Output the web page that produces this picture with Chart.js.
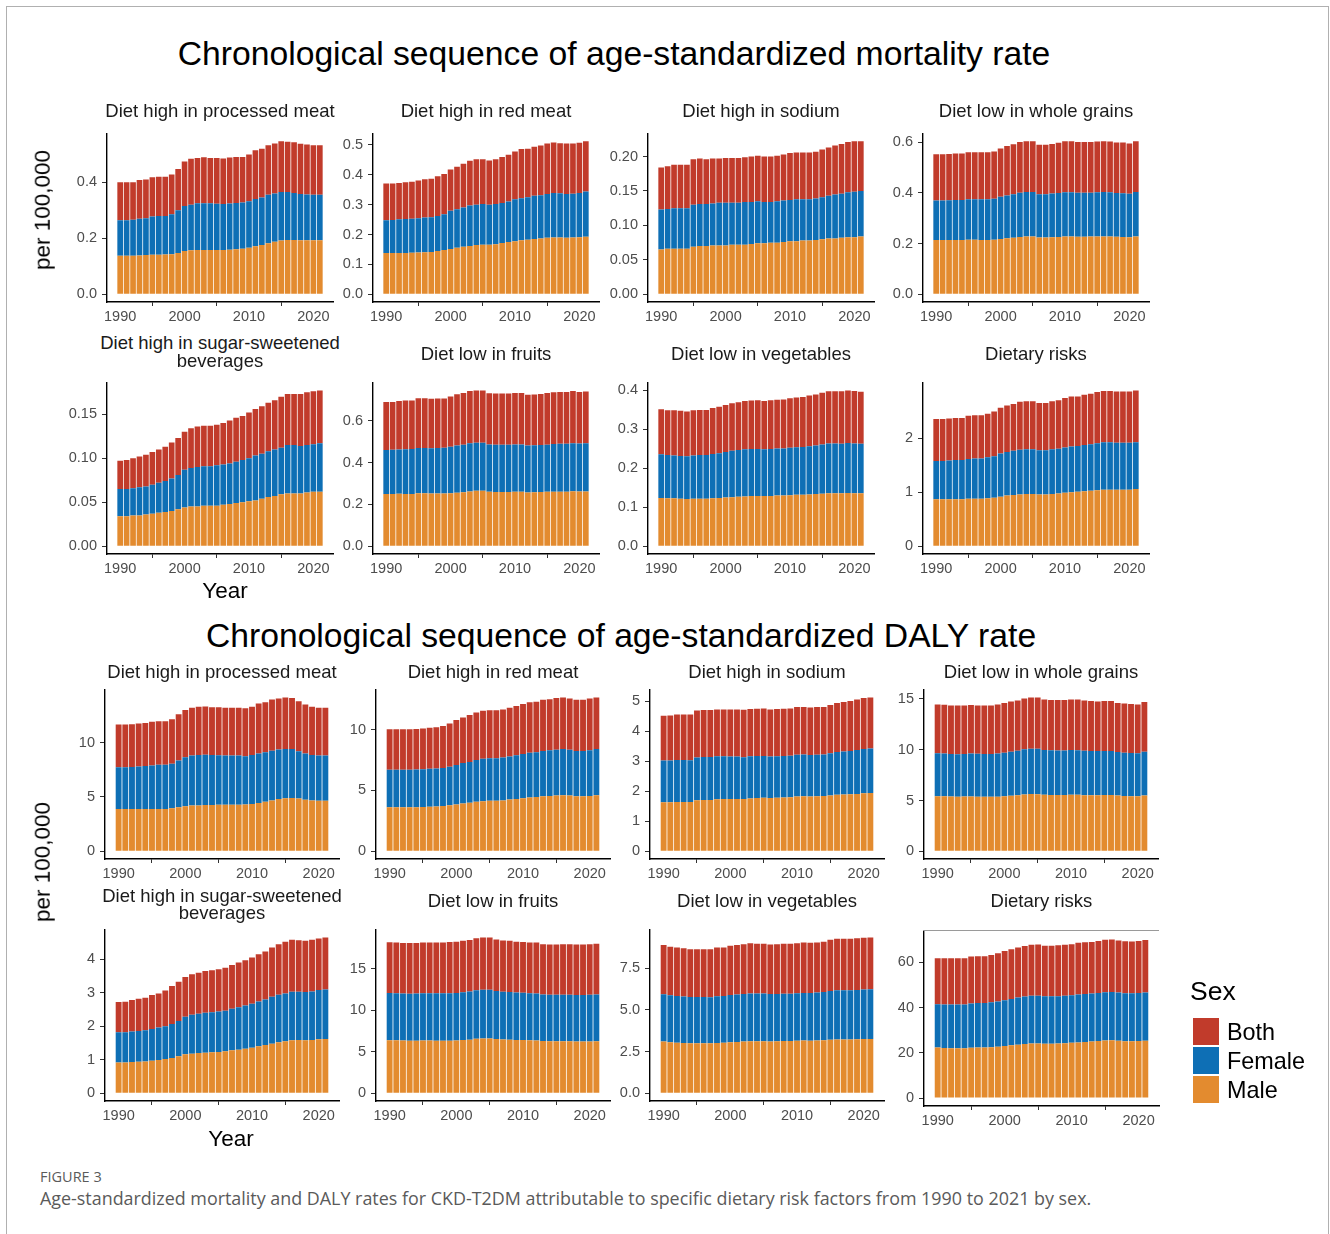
<!DOCTYPE html>
<html>
<head>
<meta charset="utf-8">
<title>Chronological sequence of age-standardized mortality and DALY rates</title>
<script src="https://cdn.jsdelivr.net/npm/chart.js@4.4.1/dist/chart.umd.min.js"></script>
<style>
  html, body { margin: 0; padding: 0; background: #ffffff; }
  #page { position: relative; width: 1330px; height: 1234px; overflow: hidden; background: #ffffff; }
  #page canvas { position: absolute; }
  .txt { position: absolute; white-space: nowrap; }
  .frame { position: absolute; left: 6px; top: 6px; width: 1321px; height: 1300px; border: 1px solid #b0b0b0; }
  .key { position: absolute; width: 26px; height: 27px; }
</style>
</head>
<body>
<div id="page"><div class="frame"></div></div>
<script>
// ---------- categories ----------
const years = [1990,1991,1992,1993,1994,1995,1996,1997,1998,1999,2000,2001,2002,2003,2004,2005,
               2006,2007,2008,2009,2010,2011,2012,2013,2014,2015,2016,2017,2018,2019,2020,2021];
const xTickLabels = ['1990','2000','2010','2020'];
const sexLabels = ['Both','Female','Male'];

// ---------- age-standardized mortality rate (per 100,000) ----------
const mortProcMeatMale   = [0.138,0.138,0.138,0.139,0.140,0.141,0.141,0.142,0.143,0.148,0.155,0.157,0.158,0.158,0.158,0.158,0.158,0.159,0.161,0.163,0.166,0.172,0.176,0.182,0.188,0.192,0.194,0.194,0.193,0.193,0.193,0.193];
const mortProcMeatFemale = [0.126,0.126,0.128,0.131,0.132,0.137,0.139,0.138,0.143,0.152,0.160,0.163,0.167,0.167,0.167,0.165,0.164,0.165,0.165,0.165,0.166,0.168,0.170,0.173,0.172,0.173,0.171,0.168,0.165,0.163,0.162,0.162];
const mortProcMeatBoth   = [0.136,0.136,0.134,0.138,0.138,0.140,0.140,0.140,0.142,0.147,0.159,0.164,0.162,0.164,0.162,0.164,0.163,0.164,0.164,0.162,0.167,0.174,0.174,0.177,0.178,0.181,0.180,0.181,0.179,0.179,0.177,0.177];
const mortProcMeatTicks  = ['0.0','0.2','0.4'];

const mortRedMeatMale   = [0.138,0.138,0.138,0.138,0.139,0.140,0.141,0.142,0.145,0.148,0.152,0.156,0.159,0.162,0.165,0.166,0.166,0.168,0.172,0.175,0.178,0.181,0.183,0.185,0.187,0.189,0.190,0.190,0.189,0.190,0.191,0.193];
const mortRedMeatFemale = [0.110,0.111,0.113,0.114,0.114,0.115,0.116,0.116,0.117,0.120,0.128,0.129,0.132,0.135,0.135,0.136,0.134,0.134,0.134,0.136,0.140,0.141,0.142,0.145,0.145,0.147,0.149,0.148,0.147,0.147,0.148,0.151];
const mortRedMeatBoth   = [0.123,0.122,0.122,0.123,0.124,0.126,0.128,0.129,0.133,0.135,0.138,0.142,0.146,0.150,0.152,0.150,0.148,0.150,0.154,0.156,0.160,0.164,0.162,0.164,0.166,0.169,0.169,0.168,0.169,0.168,0.168,0.168];
const mortRedMeatTicks  = ['0.0','0.1','0.2','0.3','0.4','0.5'];

const mortSodiumMale   = [0.065,0.066,0.066,0.066,0.066,0.069,0.070,0.070,0.071,0.071,0.071,0.072,0.072,0.072,0.073,0.074,0.074,0.075,0.075,0.076,0.077,0.077,0.078,0.078,0.079,0.080,0.081,0.081,0.082,0.083,0.083,0.084];
const mortSodiumFemale = [0.058,0.058,0.059,0.059,0.059,0.061,0.061,0.061,0.061,0.062,0.062,0.061,0.061,0.062,0.061,0.061,0.060,0.059,0.060,0.060,0.060,0.061,0.060,0.060,0.060,0.061,0.062,0.064,0.064,0.065,0.066,0.066];
const mortSodiumBoth   = [0.061,0.062,0.063,0.063,0.063,0.066,0.066,0.065,0.065,0.064,0.065,0.065,0.065,0.065,0.066,0.066,0.066,0.066,0.066,0.067,0.068,0.068,0.068,0.068,0.068,0.069,0.070,0.071,0.072,0.073,0.073,0.072];
const mortSodiumTicks  = ['0.00','0.05','0.10','0.15','0.20'];

const mortWholeGrainsMale   = [0.214,0.214,0.214,0.214,0.214,0.215,0.215,0.214,0.214,0.215,0.218,0.221,0.223,0.226,0.228,0.228,0.224,0.224,0.225,0.226,0.228,0.228,0.227,0.227,0.228,0.228,0.228,0.228,0.227,0.226,0.225,0.228];
const mortWholeGrainsFemale = [0.156,0.156,0.157,0.158,0.158,0.160,0.160,0.161,0.161,0.162,0.167,0.169,0.172,0.174,0.175,0.175,0.171,0.171,0.172,0.173,0.174,0.174,0.173,0.173,0.172,0.174,0.175,0.174,0.172,0.172,0.171,0.175];
const mortWholeGrainsBoth   = [0.182,0.182,0.182,0.183,0.183,0.185,0.185,0.185,0.185,0.186,0.190,0.195,0.197,0.200,0.200,0.200,0.195,0.195,0.196,0.198,0.201,0.201,0.200,0.200,0.200,0.200,0.200,0.200,0.199,0.200,0.199,0.200];
const mortWholeGrainsTicks  = ['0.0','0.2','0.4','0.6'];

const mortSugarBevMale   = [0.034,0.034,0.035,0.035,0.036,0.037,0.038,0.039,0.040,0.042,0.044,0.045,0.045,0.046,0.046,0.046,0.047,0.048,0.049,0.050,0.051,0.052,0.054,0.056,0.057,0.059,0.060,0.060,0.060,0.061,0.062,0.062];
const mortSugarBevFemale = [0.031,0.031,0.031,0.032,0.032,0.033,0.034,0.035,0.037,0.039,0.043,0.044,0.045,0.045,0.045,0.046,0.046,0.046,0.047,0.048,0.049,0.051,0.051,0.052,0.053,0.053,0.055,0.055,0.054,0.054,0.054,0.055];
const mortSugarBevBoth   = [0.032,0.033,0.034,0.035,0.036,0.037,0.038,0.039,0.041,0.042,0.043,0.045,0.046,0.046,0.046,0.046,0.047,0.049,0.050,0.050,0.052,0.053,0.054,0.055,0.056,0.058,0.058,0.058,0.059,0.060,0.060,0.060];
const mortSugarBevTicks  = ['0.00','0.05','0.10','0.15'];

const mortFruitsMale   = [0.250,0.250,0.251,0.250,0.250,0.253,0.253,0.252,0.252,0.252,0.253,0.256,0.258,0.262,0.265,0.265,0.260,0.259,0.259,0.259,0.260,0.260,0.257,0.258,0.259,0.260,0.261,0.261,0.261,0.263,0.262,0.262];
const mortFruitsFemale = [0.210,0.211,0.212,0.214,0.215,0.217,0.217,0.217,0.218,0.219,0.223,0.226,0.228,0.231,0.230,0.230,0.227,0.226,0.226,0.226,0.227,0.227,0.225,0.225,0.225,0.226,0.228,0.229,0.229,0.230,0.229,0.230];
const mortFruitsBoth   = [0.230,0.229,0.232,0.233,0.232,0.238,0.238,0.236,0.237,0.236,0.240,0.245,0.247,0.250,0.250,0.250,0.245,0.245,0.245,0.245,0.246,0.246,0.243,0.243,0.244,0.247,0.247,0.248,0.248,0.249,0.247,0.248];
const mortFruitsTicks  = ['0.0','0.2','0.4','0.6'];

const mortVegetablesMale   = [0.124,0.123,0.123,0.122,0.121,0.122,0.122,0.122,0.123,0.124,0.125,0.126,0.127,0.128,0.129,0.129,0.129,0.129,0.130,0.130,0.131,0.132,0.132,0.133,0.134,0.135,0.136,0.136,0.136,0.137,0.136,0.136];
const mortVegetablesFemale = [0.112,0.111,0.110,0.110,0.110,0.111,0.112,0.112,0.114,0.115,0.117,0.119,0.120,0.121,0.121,0.121,0.120,0.121,0.121,0.121,0.122,0.122,0.123,0.124,0.125,0.126,0.128,0.128,0.127,0.128,0.128,0.127];
const mortVegetablesBoth   = [0.116,0.115,0.116,0.116,0.115,0.116,0.116,0.116,0.118,0.119,0.121,0.122,0.123,0.124,0.124,0.125,0.124,0.125,0.125,0.126,0.127,0.128,0.128,0.130,0.131,0.133,0.134,0.134,0.135,0.135,0.135,0.134];
const mortVegetablesTicks  = ['0.0','0.1','0.2','0.3','0.4'];

const mortDietaryMale   = [0.87,0.87,0.87,0.87,0.87,0.88,0.88,0.88,0.89,0.90,0.92,0.94,0.95,0.96,0.97,0.97,0.96,0.96,0.97,0.98,0.99,1.00,1.01,1.02,1.03,1.04,1.05,1.05,1.05,1.05,1.05,1.06];
const mortDietaryFemale = [0.71,0.71,0.72,0.73,0.73,0.74,0.75,0.75,0.76,0.77,0.80,0.81,0.82,0.83,0.83,0.83,0.82,0.82,0.83,0.83,0.84,0.85,0.85,0.86,0.86,0.87,0.88,0.88,0.87,0.87,0.87,0.87];
const mortDietaryBoth   = [0.78,0.78,0.78,0.78,0.78,0.80,0.80,0.80,0.81,0.83,0.85,0.86,0.87,0.89,0.89,0.89,0.88,0.88,0.89,0.90,0.92,0.93,0.92,0.93,0.94,0.95,0.95,0.95,0.95,0.95,0.95,0.96];
const mortDietaryTicks  = ['0','1','2'];

// ---------- age-standardized DALY rate (per 100,000) ----------
const dalyProcMeatMale   = [3.90,3.88,3.88,3.88,3.88,3.90,3.90,3.90,3.95,4.05,4.15,4.20,4.22,4.25,4.25,4.27,4.27,4.27,4.28,4.30,4.35,4.45,4.55,4.68,4.80,4.88,4.90,4.85,4.75,4.68,4.65,4.65];
const dalyProcMeatFemale = [3.83,3.85,3.87,3.92,3.97,4.00,4.05,4.05,4.10,4.30,4.50,4.60,4.63,4.62,4.60,4.56,4.53,4.53,4.52,4.45,4.50,4.55,4.55,4.57,4.55,4.52,4.50,4.35,4.25,4.17,4.15,4.15];
const dalyProcMeatBoth   = [3.93,3.93,3.93,3.95,3.95,4.00,4.00,4.00,4.10,4.25,4.35,4.40,4.43,4.45,4.40,4.42,4.40,4.40,4.40,4.40,4.45,4.60,4.60,4.70,4.70,4.75,4.70,4.60,4.50,4.45,4.40,4.40];
const dalyProcMeatTicks  = ['0','5','10'];

const dalyRedMeatMale   = [3.62,3.62,3.62,3.62,3.63,3.65,3.67,3.68,3.72,3.78,3.85,3.92,4.00,4.08,4.12,4.15,4.15,4.18,4.25,4.30,4.37,4.42,4.47,4.52,4.55,4.58,4.60,4.58,4.53,4.52,4.55,4.60];
const dalyRedMeatFemale = [3.08,3.08,3.08,3.08,3.09,3.10,3.11,3.12,3.13,3.17,3.25,3.33,3.35,3.42,3.48,3.50,3.50,3.52,3.55,3.60,3.63,3.68,3.68,3.73,3.75,3.77,3.80,3.77,3.72,3.73,3.75,3.80];
const dalyRedMeatBoth   = [3.33,3.33,3.33,3.33,3.33,3.35,3.37,3.40,3.45,3.55,3.70,3.75,3.85,3.90,3.95,3.95,3.95,3.95,4.00,4.05,4.10,4.15,4.15,4.20,4.20,4.25,4.25,4.20,4.20,4.20,4.25,4.25];
const dalyRedMeatTicks  = ['0','5','10'];

const dalySodiumMale   = [1.63,1.63,1.64,1.64,1.64,1.70,1.71,1.71,1.73,1.74,1.74,1.74,1.74,1.76,1.77,1.78,1.77,1.78,1.79,1.80,1.82,1.83,1.82,1.83,1.84,1.86,1.88,1.89,1.90,1.91,1.93,1.94];
const dalySodiumFemale = [1.39,1.39,1.40,1.40,1.39,1.42,1.43,1.43,1.43,1.42,1.41,1.41,1.39,1.40,1.40,1.39,1.38,1.38,1.38,1.38,1.39,1.39,1.38,1.38,1.38,1.40,1.42,1.43,1.44,1.46,1.47,1.48];
const dalySodiumBoth   = [1.49,1.50,1.51,1.51,1.52,1.56,1.56,1.56,1.56,1.56,1.57,1.57,1.58,1.57,1.57,1.58,1.57,1.57,1.57,1.57,1.59,1.58,1.58,1.59,1.58,1.61,1.63,1.65,1.66,1.68,1.70,1.70];
const dalySodiumTicks  = ['0','1','2','3','4','5'];

const dalyWholeGrainsMale   = [5.42,5.41,5.39,5.38,5.39,5.40,5.38,5.36,5.36,5.38,5.42,5.47,5.52,5.60,5.63,5.62,5.56,5.55,5.55,5.55,5.57,5.57,5.53,5.53,5.52,5.54,5.54,5.49,5.44,5.42,5.41,5.50];
const dalyWholeGrainsFemale = [4.22,4.21,4.19,4.18,4.19,4.22,4.22,4.22,4.22,4.24,4.28,4.33,4.38,4.45,4.47,4.48,4.42,4.40,4.38,4.38,4.40,4.38,4.37,4.35,4.35,4.34,4.34,4.29,4.26,4.25,4.24,4.30];
const dalyWholeGrainsBoth   = [4.81,4.81,4.77,4.79,4.77,4.78,4.75,4.77,4.77,4.83,4.90,4.95,4.95,5.00,5.05,5.05,4.97,4.95,4.97,4.97,4.98,5.00,4.95,4.92,4.88,4.92,4.92,4.82,4.85,4.83,4.80,4.90];
const dalyWholeGrainsTicks  = ['0','5','10','15'];

const dalySugarBevMale   = [0.92,0.92,0.93,0.94,0.95,0.97,0.99,1.02,1.05,1.10,1.16,1.18,1.20,1.21,1.22,1.23,1.25,1.28,1.30,1.33,1.36,1.40,1.44,1.48,1.52,1.55,1.58,1.59,1.58,1.59,1.61,1.62];
const dalySugarBevFemale = [0.90,0.90,0.91,0.92,0.93,0.95,0.97,0.98,1.02,1.06,1.12,1.16,1.17,1.19,1.20,1.21,1.21,1.24,1.27,1.29,1.31,1.34,1.36,1.40,1.42,1.43,1.45,1.44,1.44,1.45,1.47,1.48];
const dalySugarBevBoth   = [0.90,0.91,0.94,0.96,0.97,1.01,1.02,1.07,1.13,1.17,1.19,1.21,1.23,1.25,1.25,1.26,1.29,1.31,1.33,1.35,1.38,1.41,1.43,1.47,1.51,1.54,1.55,1.54,1.53,1.54,1.54,1.55];
const dalySugarBevTicks  = ['0','1','2','3','4'];

const dalyFruitsMale   = [6.39,6.37,6.35,6.33,6.33,6.35,6.35,6.33,6.33,6.33,6.35,6.40,6.45,6.55,6.60,6.60,6.52,6.48,6.45,6.42,6.40,6.38,6.35,6.28,6.25,6.25,6.25,6.25,6.22,6.22,6.23,6.25];
const dalyFruitsFemale = [5.67,5.68,5.67,5.65,5.67,5.70,5.70,5.72,5.72,5.72,5.72,5.75,5.80,5.85,5.85,5.85,5.78,5.74,5.73,5.70,5.70,5.67,5.67,5.62,5.60,5.60,5.62,5.62,5.61,5.60,5.62,5.63];
const dalyFruitsBoth   = [6.11,6.10,6.08,6.12,6.10,6.10,6.10,6.10,6.10,6.15,6.18,6.20,6.20,6.25,6.30,6.30,6.20,6.18,6.17,6.13,6.10,6.10,6.13,6.05,6.05,6.05,6.08,6.08,6.07,6.08,6.10,6.12];
const dalyFruitsTicks  = ['0','5','10','15'];

const dalyVegetablesMale   = [3.10,3.06,3.03,3.01,3.00,3.00,3.00,3.00,3.02,3.03,3.06,3.08,3.10,3.12,3.12,3.12,3.11,3.12,3.13,3.13,3.15,3.16,3.15,3.16,3.18,3.21,3.23,3.23,3.23,3.24,3.25,3.26];
const dalyVegetablesFemale = [2.84,2.82,2.81,2.79,2.78,2.78,2.78,2.76,2.80,2.81,2.84,2.85,2.85,2.86,2.86,2.86,2.84,2.83,2.84,2.84,2.85,2.86,2.87,2.88,2.90,2.93,2.95,2.95,2.95,2.96,2.97,2.98];
const dalyVegetablesBoth   = [2.96,2.92,2.91,2.90,2.87,2.87,2.87,2.89,2.93,2.91,2.95,2.97,3.00,3.02,3.00,3.00,2.98,3.00,3.00,3.00,3.00,3.03,3.01,3.01,3.02,3.08,3.10,3.10,3.10,3.10,3.11,3.11];
const dalyVegetablesTicks  = ['0.0','2.5','5.0','7.5'];

const dalyDietaryMale   = [22.3,22.1,22.0,22.0,22.0,22.2,22.3,22.3,22.4,22.7,23.0,23.3,23.6,23.9,24.1,24.1,24.0,24.0,24.1,24.2,24.4,24.6,24.8,25.0,25.2,25.4,25.5,25.3,25.1,25.1,25.2,25.3];
const dalyDietaryFemale = [19.2,19.2,19.3,19.3,19.3,19.6,19.7,19.7,19.9,20.0,20.2,20.5,20.8,21.0,21.1,21.1,21.0,21.0,20.9,21.0,21.0,21.2,21.2,21.2,21.2,21.4,21.4,21.3,21.2,21.2,21.2,21.3];
const dalyDietaryBoth   = [20.3,20.5,20.5,20.5,20.5,20.7,20.7,20.7,20.9,21.3,21.8,22.0,22.1,22.3,22.5,22.6,22.3,22.3,22.5,22.5,22.6,22.8,22.8,22.8,23.0,23.1,23.1,23.0,23.0,22.9,23.0,23.2];
const dalyDietaryTicks  = ['0','20','40','60'];

// ---------- styling ----------
const SANS = "'Liberation Sans', Arial, Helvetica, sans-serif";
const CAPTION_FONT = "'Open Sans', 'Noto Sans', sans-serif";
const COLORS = { Both: '#C13B2B', Female: '#0E6FB5', Male: '#E38B2F' };
const TICK_COLOR = '#4D4D4D';

const page = document.getElementById('page');

// Text placed by its baseline (Liberation Sans ascent/descent metrics by default).
function addText(str, o) {
  const d = document.createElement('div');
  d.className = 'txt';
  d.textContent = str;
  d.style.fontFamily = o.family || SANS;
  d.style.fontSize = o.size + 'px';
  d.style.lineHeight = o.size + 'px';
  d.style.color = o.color || '#000000';
  if (o.spacing) d.style.letterSpacing = o.spacing + 'px';
  const k = o.k || 0.8465;
  d.style.top = (o.baseline - k * o.size) + 'px';
  if (o.align === 'center') {
    d.style.left = (o.x - 700) + 'px';
    d.style.width = '1400px';
    d.style.textAlign = 'center';
  } else {
    d.style.left = o.x + 'px';
  }
  page.appendChild(d);
  return d;
}

function addRotated(str, cx, cy, size) {
  const d = document.createElement('div');
  d.className = 'txt';
  d.textContent = str;
  d.style.fontFamily = SANS;
  d.style.fontSize = size + 'px';
  d.style.lineHeight = size + 'px';
  d.style.left = cx + 'px';
  d.style.top = cy + 'px';
  d.style.transform = 'translate(-50%, -50%) rotate(-90deg)';
  page.appendChild(d);
}

// ---------- one small stacked-bar panel ----------
const PAD_L = 62, PAD_T = 12, PAD_R = 26, PAD_B = 30;

function drawPanel(p) {
  const [left, top, w, h] = p.box;
  const cv = document.createElement('canvas');
  cv.width = PAD_L + w + PAD_R;
  cv.height = PAD_T + h + PAD_B;
  cv.style.left = (left - PAD_L) + 'px';
  cv.style.top = (top - PAD_T) + 'px';
  page.appendChild(cv);

  const totals = years.map((_, i) => p.male[i] + p.female[i] + p.both[i]);
  const maxTotal = Math.max(...totals);
  // bars are 0.9 year wide; the panel range is widened by 5% on each side
  const lo = years[0] - 0.45, hi = years[years.length - 1] + 0.45, span = hi - lo;

  const series = [['Male', p.male], ['Female', p.female], ['Both', p.both]];
  const tickFont = { family: SANS, size: 14.5 };

  new Chart(cv, {
    type: 'bar',
    data: {
      datasets: series.map(([name, vals]) => ({
        label: name,
        data: years.map((yr, i) => ({ x: yr, y: vals[i] })),
        backgroundColor: COLORS[name],
        borderWidth: 0,
        stack: 'sex',
        barPercentage: 0.88,
        categoryPercentage: 1.0
      }))
    },
    options: {
      responsive: false,
      animation: false,
      devicePixelRatio: 1,
      layout: { padding: { left: 0, top: PAD_T, right: PAD_R, bottom: 0 } },
      plugins: { legend: { display: false }, tooltip: { enabled: false }, title: { display: false } },
      scales: {
        x: {
          type: 'linear',
          stacked: true,
          offset: false,
          min: lo - 0.05 * span,
          max: hi + 0.05 * span,
          afterFit: (s) => { s.height = PAD_B; },
          afterBuildTicks: (s) => { s.ticks = xTickLabels.map((t) => ({ value: Number(t) })); },
          ticks: { callback: (v, i) => xTickLabels[i], color: TICK_COLOR, font: tickFont,
                   padding: 2, maxRotation: 0, autoSkip: false },
          grid: { display: true, drawOnChartArea: false, drawTicks: true, tickLength: 4, color: '#333333', lineWidth: 1 },
          border: { display: true, color: '#000000', width: 1.4 }
        },
        y: {
          type: 'linear',
          stacked: true,
          min: -0.05 * maxTotal,
          max: 1.05 * maxTotal,
          afterFit: (s) => { s.width = PAD_L; },
          afterBuildTicks: (s) => { s.ticks = p.ticks.map((t) => ({ value: Number(t) })); },
          ticks: { callback: (v, i) => p.ticks[i], color: TICK_COLOR, font: tickFont, padding: 5, autoSkip: false },
          grid: { display: true, drawOnChartArea: false, drawTicks: true, tickLength: 5, color: '#333333', lineWidth: 1 },
          border: { display: true, color: '#000000', width: 1.4 }
        }
      }
    }
  });

  const cx = left + w / 2;
  p.title.forEach((line, i) => {
    addText(line, { x: cx, baseline: p.titleBase[i], size: 18.5, align: 'center', color: '#1A1A1A' });
  });
}

// ---------- panel grid ----------
const mortCols = [107, 373, 648, 923], mortW = 226;
const dalyCols = [105, 376, 650, 924], dalyW = 234;

const panels = [
  { title: ['Diet high in processed meat'], titleBase: [118], male: mortProcMeatMale, female: mortProcMeatFemale, both: mortProcMeatBoth, ticks: mortProcMeatTicks, box: [mortCols[0], 132, mortW, 170] },
  { title: ['Diet high in red meat'], titleBase: [118], male: mortRedMeatMale, female: mortRedMeatFemale, both: mortRedMeatBoth, ticks: mortRedMeatTicks, box: [mortCols[1], 132, mortW, 170] },
  { title: ['Diet high in sodium'], titleBase: [118], male: mortSodiumMale, female: mortSodiumFemale, both: mortSodiumBoth, ticks: mortSodiumTicks, box: [mortCols[2], 132, mortW, 170] },
  { title: ['Diet low in whole grains'], titleBase: [118], male: mortWholeGrainsMale, female: mortWholeGrainsFemale, both: mortWholeGrainsBoth, ticks: mortWholeGrainsTicks, box: [mortCols[3], 132, mortW, 170] },

  { title: ['Diet high in sugar-sweetened', 'beverages'], titleBase: [350, 368], male: mortSugarBevMale, female: mortSugarBevFemale, both: mortSugarBevBoth, ticks: mortSugarBevTicks, box: [mortCols[0], 381, mortW, 173] },
  { title: ['Diet low in fruits'], titleBase: [361], male: mortFruitsMale, female: mortFruitsFemale, both: mortFruitsBoth, ticks: mortFruitsTicks, box: [mortCols[1], 381, mortW, 173] },
  { title: ['Diet low in vegetables'], titleBase: [361], male: mortVegetablesMale, female: mortVegetablesFemale, both: mortVegetablesBoth, ticks: mortVegetablesTicks, box: [mortCols[2], 381, mortW, 173] },
  { title: ['Dietary risks'], titleBase: [361], male: mortDietaryMale, female: mortDietaryFemale, both: mortDietaryBoth, ticks: mortDietaryTicks, box: [mortCols[3], 381, mortW, 173] },

  { title: ['Diet high in processed meat'], titleBase: [679], male: dalyProcMeatMale, female: dalyProcMeatFemale, both: dalyProcMeatBoth, ticks: dalyProcMeatTicks, box: [dalyCols[0], 688, dalyW, 171] },
  { title: ['Diet high in red meat'], titleBase: [679], male: dalyRedMeatMale, female: dalyRedMeatFemale, both: dalyRedMeatBoth, ticks: dalyRedMeatTicks, box: [dalyCols[1], 688, dalyW, 171] },
  { title: ['Diet high in sodium'], titleBase: [679], male: dalySodiumMale, female: dalySodiumFemale, both: dalySodiumBoth, ticks: dalySodiumTicks, box: [dalyCols[2], 688, dalyW, 171] },
  { title: ['Diet low in whole grains'], titleBase: [679], male: dalyWholeGrainsMale, female: dalyWholeGrainsFemale, both: dalyWholeGrainsBoth, ticks: dalyWholeGrainsTicks, box: [dalyCols[3], 688, dalyW, 171] },

  { title: ['Diet high in sugar-sweetened', 'beverages'], titleBase: [903, 920], male: dalySugarBevMale, female: dalySugarBevFemale, both: dalySugarBevBoth, ticks: dalySugarBevTicks, box: [dalyCols[0], 928, dalyW, 173] },
  { title: ['Diet low in fruits'], titleBase: [908], male: dalyFruitsMale, female: dalyFruitsFemale, both: dalyFruitsBoth, ticks: dalyFruitsTicks, box: [dalyCols[1], 928, dalyW, 173] },
  { title: ['Diet low in vegetables'], titleBase: [908], male: dalyVegetablesMale, female: dalyVegetablesFemale, both: dalyVegetablesBoth, ticks: dalyVegetablesTicks, box: [dalyCols[2], 928, dalyW, 173] },
  { title: ['Dietary risks'], titleBase: [908], male: dalyDietaryMale, female: dalyDietaryFemale, both: dalyDietaryBoth, ticks: dalyDietaryTicks, box: [dalyCols[3], 930, dalyW + 1, 176] }
];

panels.forEach(drawPanel);

// thin rule along the top edge of the last DALY panel
const rule = document.createElement('div');
rule.style.cssText = 'position:absolute;left:923px;top:930px;width:236px;height:1px;background:#9a9a9a;';
page.appendChild(rule);

// ---------- section titles and axis titles ----------
addText('Chronological sequence of age-standardized mortality rate', { x: 614, baseline: 66, size: 33.7, align: 'center' });
addText('Chronological sequence of age-standardized DALY rate', { x: 621, baseline: 648, size: 33.7, align: 'center' });

addRotated('per 100,000', 43, 210, 22.5);
addRotated('per 100,000', 43, 862, 22.5);
addText('Year', { x: 225, baseline: 599, size: 22.5, align: 'center' });
addText('Year', { x: 231, baseline: 1147, size: 22.5, align: 'center' });

// ---------- legend ----------
addText('Sex', { x: 1190, baseline: 1000, size: 26.5 });
const keyTops = [1018, 1047, 1076];
const keyBases = [1041, 1070, 1099];
sexLabels.forEach((name, i) => {
  const k = document.createElement('div');
  k.className = 'key';
  k.style.left = '1193px';
  k.style.top = keyTops[i] + 'px';
  k.style.background = COLORS[name];
  page.appendChild(k);
  addText(name, { x: 1227, baseline: keyBases[i], size: 23.4 });
});

// ---------- caption ----------
addText('FIGURE 3', { x: 40, baseline: 1183, size: 14.5, family: CAPTION_FONT, k: 0.888, color: '#5a5a5a' });
addText('Age-standardized mortality and DALY rates for CKD-T2DM attributable to specific dietary risk factors from 1990 to 2021 by sex.',
        { x: 40, baseline: 1206, size: 17.9, family: CAPTION_FONT, k: 0.888, color: '#5a5a5a' });
</script>
</body>
</html>
